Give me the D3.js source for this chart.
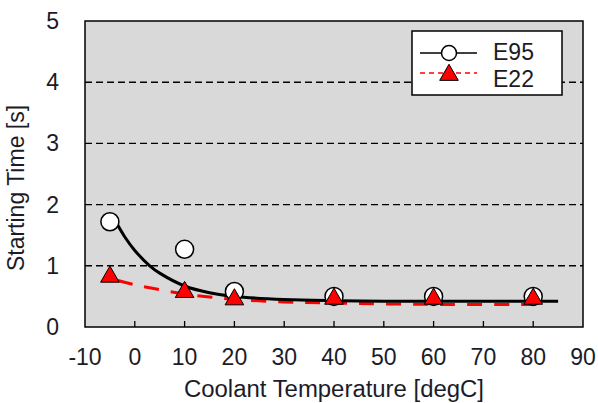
<!DOCTYPE html>
<meta charset="utf-8">
<style>
body { margin: 0; background: #fff; }
text { font-family: "Liberation Sans", Arial, sans-serif; fill: #1c1c28; }
</style>
<svg width="598" height="403"></svg>
<script src="https://d3js.org/d3.v7.min.js"></script>
<script>

// measured points
var tempE95 = [-5, 10, 20, 40, 60, 80],
    timeE95 = [1.72, 1.27, 0.58, 0.50, 0.50, 0.50];
var tempE22 = [-5, 10, 20, 40, 60, 80],
    timeE22 = [0.82, 0.57, 0.45, 0.46, 0.46, 0.46];

// fitted curves
var fitX95 = [-3.6, -2, 0, 3, 5, 10, 15, 20, 30, 40, 50, 60, 70, 85],
    fitY95 = [1.69, 1.47, 1.25, 1.0, 0.88, 0.67, 0.56, 0.50, 0.45, 0.43, 0.42, 0.42, 0.42, 0.42];
var fitX22 = [-3.4, 0, 5, 10, 15, 20, 30, 40, 60, 83],
    fitY22 = [0.76, 0.69, 0.61, 0.54, 0.49, 0.45, 0.41, 0.39, 0.37, 0.37];

var xTicks = [-10, 0, 10, 20, 30, 40, 50, 60, 70, 80, 90],
    yTicks = [0, 1, 2, 3, 4, 5];
var legendNames = ["E95", "E22"];

var svg = d3.select("svg"),
    pL = 85, pR = 583, pT = 21, pB = 327;

var x = d3.scaleLinear().domain([-10, 90]).range([pL, pR]),
    y = d3.scaleLinear().domain([0, 5]).range([pB, pT]);

svg.append("rect")
    .attr("x", pL).attr("y", pT)
    .attr("width", pR - pL).attr("height", pB - pT)
    .attr("fill", "#d9d9d9");

// dashed grid
svg.selectAll(".grid").data(yTicks.filter(function(d){ return d > 0 && d < 5; }))
  .enter().append("line")
    .attr("x1", pL).attr("x2", pR)
    .attr("y1", function(d){ return y(d); }).attr("y2", function(d){ return y(d); })
    .attr("stroke", "#000").attr("stroke-width", 1.4)
    .attr("stroke-dasharray", "7,4");

// x ticks inward
svg.selectAll(".xt").data(xTicks.slice(1, -1))
  .enter().append("line")
    .attr("x1", function(d){ return x(d); }).attr("x2", function(d){ return x(d); })
    .attr("y1", pB).attr("y2", pB - 6)
    .attr("stroke", "#000").attr("stroke-width", 1.3);

svg.append("rect")
    .attr("x", pL).attr("y", pT)
    .attr("width", pR - pL).attr("height", pB - pT)
    .attr("fill", "none").attr("stroke", "#000").attr("stroke-width", 1.5);

// tick labels
svg.selectAll(".xl").data(xTicks)
  .enter().append("text")
    .attr("x", function(d){ return x(d); }).attr("y", 365)
    .attr("text-anchor", "middle").attr("font-size", 23)
    .text(function(d){ return d; });

svg.selectAll(".yl").data(yTicks)
  .enter().append("text")
    .attr("x", 59).attr("y", function(d){ return y(d) + 8; })
    .attr("text-anchor", "end").attr("font-size", 23)
    .text(function(d){ return d; });

svg.append("text")
    .attr("x", (pL + pR) / 2).attr("y", 397)
    .attr("text-anchor", "middle").attr("font-size", 23)
    .attr("textLength", 300).attr("lengthAdjust", "spacingAndGlyphs")
    .text("Coolant Temperature [degC]");

svg.append("text")
    .attr("transform", "translate(24,188) rotate(-90)")
    .attr("text-anchor", "middle").attr("font-size", 23)
    .text("Starting Time [s]");

// fitted lines
var line = d3.line().curve(d3.curveCatmullRom.alpha(0.5));

svg.append("path")
    .attr("d", line(fitX22.map(function(d, i){ return [x(d), y(fitY22[i])]; })))
    .attr("fill", "none").attr("stroke", "#ff0000").attr("stroke-width", 3)
    .attr("stroke-dasharray", "15,12");

svg.append("path")
    .attr("d", line(fitX95.map(function(d, i){ return [x(d), y(fitY95[i])]; })))
    .attr("fill", "none").attr("stroke", "#000").attr("stroke-width", 3);

var tri = d3.symbol().type(d3.symbolTriangle).size(150);

svg.selectAll(".c95").data(tempE95)
  .enter().append("circle")
    .attr("cx", function(d){ return x(d); })
    .attr("cy", function(d, i){ return y(timeE95[i]); })
    .attr("r", 9)
    .attr("fill", "#fff").attr("stroke", "#000").attr("stroke-width", 1.5);

svg.selectAll(".t22").data(tempE22)
  .enter().append("path")
    .attr("transform", function(d, i){ return "translate(" + x(d) + "," + y(timeE22[i]) + ")"; })
    .attr("d", tri)
    .attr("fill", "#ff0000").attr("stroke", "#000").attr("stroke-width", 1);

// legend
var lg = svg.append("g");
lg.append("rect")
    .attr("x", 412).attr("y", 31).attr("width", 150).attr("height", 64)
    .attr("fill", "#fff").attr("stroke", "#000").attr("stroke-width", 1.5);

lg.append("line").attr("x1", 420).attr("x2", 477).attr("y1", 53).attr("y2", 53)
    .attr("stroke", "#000").attr("stroke-width", 1.5);
lg.append("circle").attr("cx", 449).attr("cy", 53).attr("r", 7.5)
    .attr("fill", "#fff").attr("stroke", "#000").attr("stroke-width", 1.5);

lg.append("line").attr("x1", 420).attr("x2", 477).attr("y1", 73).attr("y2", 73)
    .attr("stroke", "#ff0000").attr("stroke-width", 1.5).attr("stroke-dasharray", "5,4");
lg.append("path").attr("transform", "translate(449,75)").attr("d", tri)
    .attr("fill", "#ff0000").attr("stroke", "#000").attr("stroke-width", 1);

lg.selectAll(".ln").data(legendNames)
  .enter().append("text")
    .attr("x", 493).attr("y", function(d, i){ return 60 + i * 27; })
    .attr("font-size", 23)
    .text(function(d){ return d; });

</script>
